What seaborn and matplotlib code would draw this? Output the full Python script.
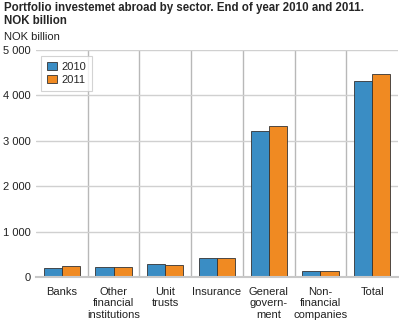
import matplotlib
matplotlib.use("Agg")
import matplotlib.pyplot as plt
import seaborn as sns
import pandas as pd
from matplotlib.ticker import FuncFormatter, MultipleLocator

categories = ["Banks", "Other\nfinancial\ninstitutions", "Unit\ntrusts", "Insurance",
              "General\ngovern-\nment", "Non-\nfinancial\ncompanies", "Total"]
values_2010 = [190, 213, 280, 412, 3222, 132, 4317]
values_2011 = [235, 227, 258, 425, 3326, 125, 4478]
years = ["2010", "2011"]

df = pd.DataFrame({
    "sector": categories * 2,
    "value": values_2010 + values_2011,
    "year": [years[0]] * len(categories) + [years[1]] * len(categories),
})

sns.set_style("white")
plt.rcParams['font.family'] = ['Liberation Sans', 'DejaVu Sans']

fig = plt.figure(figsize=(3.99, 3.23), dpi=100)
ax = fig.add_axes([36/399, 1 - 277/323, 362/399, 227/323])

palette = {"2010": "#3A8DC4", "2011": "#F08A22"}
sns.barplot(data=df, x="sector", y="value", hue="year", palette=palette,
            width=0.7, ax=ax, saturation=1, edgecolor="#333333", linewidth=0.6)

ax.set_ylim(0, 5000)
ax.set_xlim(-0.5, len(categories) - 0.5)
ax.yaxis.set_major_locator(MultipleLocator(1000))
ax.yaxis.set_major_formatter(FuncFormatter(lambda v, p: f"{int(v):,}".replace(",", " ")))
ax.set_axisbelow(True)
ax.grid(axis="y", color="#d0d0d0", linewidth=1)
for i in range(1, len(categories)):
    ax.axvline(i - 0.5, color="#b8b8b8", linewidth=1, zorder=0)
for s in ["top", "right", "left"]:
    ax.spines[s].set_visible(False)
ax.spines["bottom"].set_color("#c8c8c8")
ax.spines["bottom"].set_linewidth(1.5)
ax.tick_params(axis="both", length=0, labelsize=8, colors="#222222", pad=4)
ax.tick_params(axis="x", pad=7)
ax.set_xlabel("")
ax.set_ylabel("")
for lab in ax.get_xticklabels():
    lab.set_linespacing(1.2)

leg = ax.legend(loc="upper left", bbox_to_anchor=(5/362, 1 - 6/227), borderaxespad=0,
                frameon=True, fontsize=8,
                handlelength=0.9, handleheight=0.7, handletextpad=0.4,
                borderpad=0.55, labelspacing=0.25, fancybox=False)
leg.get_frame().set_edgecolor("#c8c8c8")
leg.get_frame().set_linewidth(0.8)

fig.text(4/399, 1 - 2/323, "Portfolio investemet abroad by sector. End of year 2010 and 2011.\nNOK billion",
         ha="left", va="top", fontsize=8.3, fontweight="bold", linespacing=1.15)
fig.text(4/399, 1 - 32/323, "NOK billion", ha="left", va="top", fontsize=8, color="#222222")

fig.savefig("out.png", dpi=100)
